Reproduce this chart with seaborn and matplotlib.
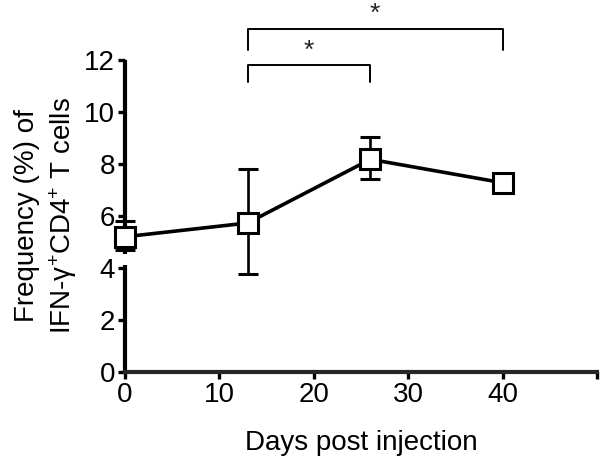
import numpy as np
import pandas as pd
import matplotlib
matplotlib.use("Agg")
import matplotlib.pyplot as plt
import seaborn as sns

days = [0, 13, 26, 40]
freq = [5.2, 5.73, 8.18, 7.28]
err_low = [4.7, 3.77, 7.42, 7.28]
err_high = [5.8, 7.8, 9.03, 7.28]

x_ticks = [0, 10, 20, 30, 40, 50]
x_tick_labels = ["0", "10", "20", "30", "40", ""]
y_ticks = [0, 2, 4, 6, 8, 10, 12]

# significance brackets: (start day, end day, bar height, leg bottom, label)
brackets = [(13, 26, 11.8, 11.15, "*"), (13, 40, 13.2, 12.4, "*")]

sns.set_theme(style="ticks")
plt.rcParams["font.family"] = ["Liberation Sans", "DejaVu Sans"]
plt.rcParams["mathtext.fontset"] = "custom"
plt.rcParams["mathtext.rm"] = "Liberation Sans"
plt.rcParams["mathtext.it"] = "Liberation Sans"

df = pd.DataFrame({"Days": days, "Freq": freq})

fig = plt.figure(figsize=(6, 4.62), dpi=100)
ax = fig.add_axes([0.208, 0.195, 0.787, 0.675])

yerr = np.array([np.array(freq) - np.array(err_low), np.array(err_high) - np.array(freq)])
ax.errorbar(days, freq, yerr=yerr, fmt="none", ecolor="black", elinewidth=1.9,
            capsize=7, capthick=2.2, zorder=2, clip_on=False)
sns.lineplot(data=df, x="Days", y="Freq", ax=ax, color="black", linewidth=2.6,
             marker="s", markersize=15, markerfacecolor="white",
             markeredgecolor="black", markeredgewidth=2.2, zorder=3, clip_on=False)

ax.set_xlim(0, 50)
ax.set_ylim(0, 12)
ax.set_xticks(x_ticks)
ax.set_xticklabels(x_tick_labels)
ax.set_yticks(y_ticks)

ax.tick_params(axis="both", direction="out", length=5, width=2.4, labelsize=20,
               pad=2, color="black", labelcolor="black")

# left spine drawn in two parts (axis break)
ax.spines["left"].set_visible(False)
ax.spines["top"].set_visible(False)
ax.spines["right"].set_visible(False)
ax.spines["bottom"].set_linewidth(3)
ax.plot([0, 0], [0, 4.1], color="black", lw=3, clip_on=False, zorder=1,
        solid_capstyle="butt")
ax.plot([0, 0], [4.55, 12], color="black", lw=3, clip_on=False, zorder=1,
        solid_capstyle="butt")

for x0, x1, h, leg, lab in brackets:
    ax.plot([x0, x0, x1, x1], [leg, h, h, leg], color="black", lw=1.4, clip_on=False)
    ax.text((x0 + x1) / 2, h + 0.1, lab, ha="center", va="bottom", fontsize=19)

ax.set_xlabel("Days post injection", fontsize=20, labelpad=16, color="black")
ax.set_ylabel("Frequency (%) of\nIFN-γ$^{+}$CD4$^{+}$ T cells", fontsize=20,
              labelpad=4, color="black", linespacing=1.3)

fig.savefig("out.png", dpi=100)
